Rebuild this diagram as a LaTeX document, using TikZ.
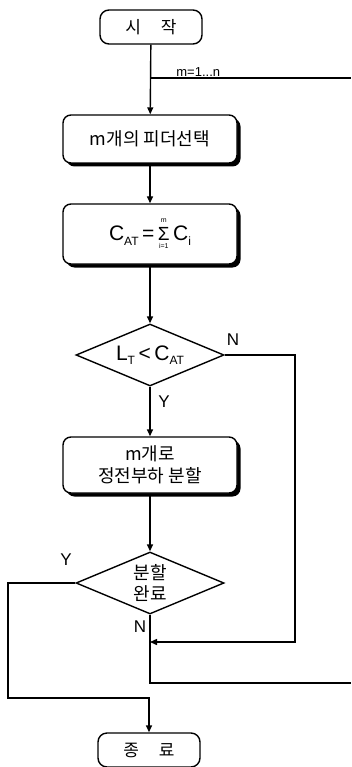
\documentclass[tikz,border=0pt]{standalone}
\usepackage{fontspec}
\setmainfont{Noto Sans CJK KR}
\newfontfamily\latinf{Liberation Sans}
\usetikzlibrary{shapes.geometric,arrows.meta,shadows}
\newcommand\sbx[1]{\raisebox{-0.22em}{\fontsize{12}{12}\selectfont #1}}
\newsavebox\sigbox
\newcommand\mysig{\sbox\sigbox{\fontsize{19}{19}\selectfont Σ}%
  \rlap{\makebox[\wd\sigbox]{\raisebox{17.5pt}{\fontsize{7}{7}\selectfont m}}}%
  \rlap{\makebox[\wd\sigbox]{\raisebox{-8.5pt}{\fontsize{7}{7}\selectfont i=1}}}%
  \usebox\sigbox}
\begin{document}
\begin{tikzpicture}[x=1pt,y=-1pt,
  line width=1.4pt,
  arr/.style={-{Triangle[length=7pt,width=6pt]}},
  term/.style={draw,rounded corners=9pt,minimum width=102pt,minimum height=34pt,inner sep=0pt,font=\fontsize{17}{18}\selectfont},
  proc/.style={draw,fill=white,rounded corners=8pt,minimum width=174pt,inner sep=2pt,align=center,
     font=\fontsize{18}{22}\selectfont,
     drop shadow={shadow xshift=3.5pt,shadow yshift=-3.5pt,fill=black,opacity=1}},
  dec/.style={draw,diamond,aspect=2.4,minimum width=148pt,minimum height=62pt,inner sep=0pt,align=center,font=\fontsize{18}{21}\selectfont},
  lab/.style={font=\latinf\fontsize{17}{17}\selectfont,inner sep=0pt},
  frm/.style={font=\latinf\fontsize{21}{22}\selectfont}
]
\useasboundingbox (0,0) rectangle (351,767);
\node[term] (start) at (151,27) {시\hspace{20pt}작};
\node[proc,minimum height=48pt] (sel) at (150,139) {m개의 피더선택};
\node[proc,frm,minimum height=60pt] (sum) at (150,234) {C\sbx{AT}\,=\,\mysig\,C\sbx{i}};
\node[dec,frm] (cmp) at (150,355) {L\sbx{T}\,<\,C\sbx{AT}};
\node[proc,minimum height=56pt] (div) at (150,465) {m개로\\정전부하 분할};
\node[dec] (done) at (150,583) {분할\\완료};
\node[term] (end) at (149,750) {종\hspace{20pt}료};

\coordinate (ax1) at (150,78);
\coordinate (r1) at (351,78);
\coordinate (nr) at (295,642);
\coordinate (join) at (150,642);
\coordinate (bl) at (150,683);
\coordinate (br) at (351,683);
\coordinate (yl) at (8,698);

\draw[arr] (start) -- (sel);
\draw (ax1) -- node[lab,above,font=\latinf\fontsize{13}{13}\selectfont,pos=0.24,yshift=1pt] {m=1...n} (r1);
\draw[arr] (sel) -- (sum);
\draw[arr] (sum) -- (cmp);
\draw[arr] (cmp) -- (div);
\draw[arr] (div) -- (done);
\draw[arr] (cmp.east) -| (nr) -- (join);
\draw (done.south) -- (bl) -- (br);
\draw[arr] (done.west) -| (yl) -| (end.north);

\node[lab] at (233,340) {N};
\node[lab] at (164,402) {Y};
\node[lab] at (66,560) {Y};
\node[lab] at (140,627) {N};
\end{tikzpicture}
\end{document}
